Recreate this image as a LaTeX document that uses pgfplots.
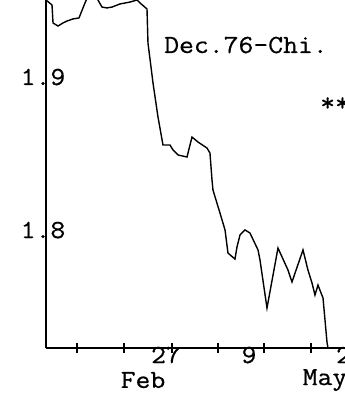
\documentclass[border=0pt]{standalone}
\usepackage{pgfplots}
\pgfplotsset{compat=1.18}
\usepackage{fontspec}
\setmonofont{Latin Modern Mono}[FakeStretch=1.11, FakeBold=0.6]
\newcommand{\tw}{\ttfamily\fontsize{26bp}{26bp}\selectfont}
\begin{document}
\begin{tikzpicture}
\path[use as bounding box] (0,0) rectangle (345bp,394bp);
\begin{axis}[
  at={(46bp,46bp)}, anchor=south west,
  scale only axis, width=299bp, height=348bp,
  xmin=0, xmax=63.62, ymin=1.7211, ymax=1.9578,
  axis lines=left,
  axis line style={-, line width=1.4bp, black},
  xtick={6.6,16.6,26.81,36.6,46.38,56.38}, xticklabels={},
  ytick=\empty,
  tick align=center, major tick length=10bp,
  x tick style={line width=1.1bp, black},
  clip=false,
]
\addplot[black, line width=1.4bp] coordinates {
(0,1.9578) (1.28,1.9544) (1.49,1.9422) (2.55,1.9401) (3.62,1.9422)
(4.47,1.9435) (5.74,1.9449) (7.02,1.9456) (7.45,1.9490) (8.30,1.9558)
(9.15,1.9619) (10.43,1.9619) (11.06,1.9578) (11.91,1.9530) (12.98,1.9524)
(14.04,1.9530) (15.74,1.9551) (17.87,1.9564) (19.36,1.9578) (20.00,1.9558)
(21.49,1.9517) (21.70,1.9285) (22.77,1.9013) (23.83,1.8782) (24.89,1.8592)
(26.38,1.8592) (27.02,1.8558) (28.09,1.8524) (30.00,1.8510) (31.06,1.8646)
(32.34,1.8612) (34.26,1.8571) (34.89,1.8537) (35.32,1.8354) (35.53,1.8285)
(37.02,1.8129) (38.09,1.8014) (38.72,1.7857) (40.21,1.7816) (40.64,1.7898)
(41.28,1.7980) (42.34,1.8014) (43.40,1.7993) (45.11,1.7878) (45.53,1.7810)
(47.02,1.7483) (49.36,1.7891) (51.49,1.7741) (52.34,1.7660) (54.68,1.7878)
(55.74,1.7741) (56.60,1.7653) (57.23,1.7571) (57.87,1.7639) (58.94,1.7551)
(59.79,1.7251) (60.00,1.7211)
};
\node[font=\tw] at (axis cs:42.55,1.9272) {Dec.76-Chi.};
\node[font=\tw, anchor=west] at (axis cs:57.6,1.8870) {**};
\node[font=\tw] at (axis cs:-0.64,1.9054) {1.9};
\node[font=\tw] at (axis cs:-0.64,1.8013) {1.8};
\node[font=\tw] at (axis cs:25.53,1.7163) {27};
\node[font=\tw] at (axis cs:43.19,1.7163) {9};
\node[font=\tw] at (axis cs:63.3,1.7163) {2};
\node[font=\tw] at (axis cs:20.64,1.6993) {Feb};
\node[font=\tw] at (axis cs:59.36,1.6993) {May};
\end{axis}
\end{tikzpicture}
\end{document}
